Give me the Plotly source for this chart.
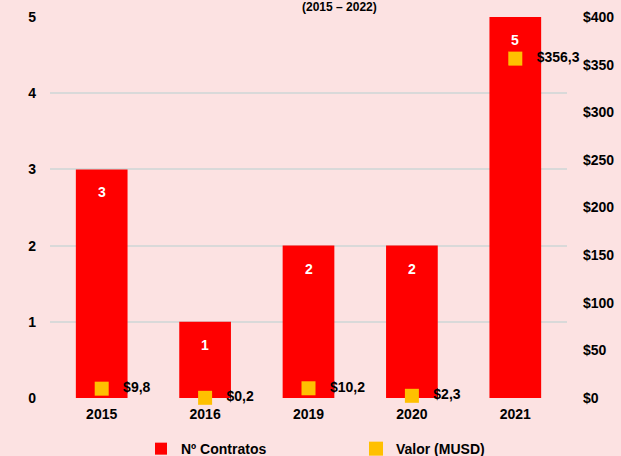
import plotly.graph_objects as go

years = ["2015", "2016", "2019", "2020", "2021"]
contratos = [3, 1, 2, 2, 5]
valor_musd = [9.8, 0.2, 10.2, 2.3, 356.3]

bg = "#FCE2E2"
font_family = "Liberation Sans, Arial, sans-serif"

valor_text = ["&nbsp;&nbsp;&nbsp;$" + f"{v:.1f}".replace(".", ",") for v in valor_musd]

fig = go.Figure()
fig.add_trace(go.Bar(
    x=years, y=contratos, name="<b>Nº Contratos</b>",
    marker=dict(color="#FF0000", line=dict(width=0)),
    width=0.5,
    yaxis="y",
))
fig.add_trace(go.Scatter(
    x=years, y=valor_musd, name="<b>Valor (MUSD)</b>",
    mode="markers+text",
    marker=dict(symbol="square", size=14, color="#FFC000"),
    text=valor_text, texttemplate="<b>%{text}</b>",
    textposition="middle right",
    textfont=dict(color="black", size=14, family=font_family),
    cliponaxis=False,
    yaxis="y2",
))

for i, c in enumerate(contratos):
    fig.add_annotation(
        x=i, y=c, xref="x", yref="y", yshift=-23,
        text=f"<b>{c}</b>", showarrow=False,
        font=dict(color="white", size=14, family=font_family),
    )

fig.add_annotation(
    text="<b>(2015 – 2022)</b>", xref="paper", yref="paper",
    x=0.56, y=1.0, yshift=1, xanchor="center", yanchor="bottom",
    showarrow=False, font=dict(size=12, color="black", family=font_family),
)

fig.update_layout(
    width=621, height=456,
    paper_bgcolor=bg, plot_bgcolor=bg,
    margin=dict(l=50, r=54, t=17, b=58, autoexpand=False),
    font=dict(family=font_family, color="black", size=14),
    bargap=0.5,
    showlegend=True,
    legend=dict(
        orientation="h", x=0.176, xanchor="left", y=-0.092, yanchor="top",
        font=dict(size=14, family=font_family),
        entrywidth=170, entrywidthmode="pixels",
        itemwidth=30,
        traceorder="normal",
        bgcolor="rgba(0,0,0,0)",
    ),
    xaxis=dict(
        type="category", categoryorder="array", categoryarray=years,
        range=[-0.5, len(years) - 0.5],
        showgrid=False, showline=False, zeroline=False,
        tickfont=dict(size=14, family=font_family), ticks="",
        ticklabelstandoff=6,
        tickprefix="<b>", ticksuffix="</b>",
    ),
    yaxis=dict(
        range=[0, 5], dtick=1, showgrid=True, gridcolor="#D9D9D9", gridwidth=2,
        zeroline=False, showline=False,
        tickfont=dict(size=14, family=font_family), ticklabelstandoff=13,
        tickprefix="<b>", ticksuffix="</b>",
    ),
    yaxis2=dict(
        range=[0, 400], dtick=50, overlaying="y", side="right",
        showgrid=False, zeroline=False, showline=False,
        tickprefix="<b>$", ticksuffix="</b>",
        tickfont=dict(size=14, family=font_family), ticklabelstandoff=15,
    ),
)

fig.write_html(
    "out.html",
    config={"displayModeBar": False},
    post_script="document.body.style.margin='0';document.body.style.overflow='hidden';",
)
